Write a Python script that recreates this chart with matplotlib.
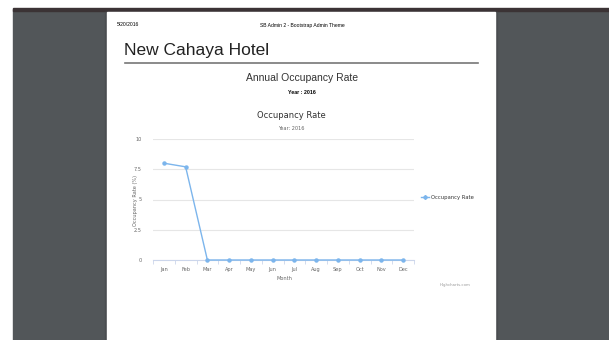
import numpy as np
import matplotlib.pyplot as plt
from matplotlib.patches import Rectangle
from matplotlib.lines import Line2D

# 数据
months = ['Jan', 'Feb', 'Mar', 'Apr', 'May', 'Jun', 'Jul', 'Aug', 'Sep', 'Oct', 'Nov', 'Dec']
occupancy = [8.0, 7.7, 0, 0, 0, 0, 0, 0, 0, 0, 0, 0]
y_ticks = [0, 2.5, 5, 7.5, 10]
y_tick_labels = ['0', '2.5', '5', '7.5', '10']

W, H = 609, 340
fig = plt.figure(figsize=(W / 100, H / 100), dpi=100)
fig.patch.set_facecolor('white')

# 背景（PDF 阅读器）
bg = fig.add_axes([0, 0, 1, 1])
bg.set_xlim(0, W)
bg.set_ylim(H, 0)
bg.axis('off')
bg.add_patch(Rectangle((13, 9), W - 13, H - 9, color='#525659', zorder=0))
bg.add_patch(Rectangle((13, 8), W - 13, 3, color='#3b3335', zorder=1))
bg.add_patch(Rectangle((105, 12), 392, H - 12, color='#4a4d50', zorder=1))
bg.add_patch(Rectangle((107, 12), 388, H - 12, color='white', zorder=2))

hdr = dict(family='Liberation Sans', zorder=3)
bg.text(117, 25, '5/20/2016', fontsize=3.6, ha='left', va='center', **hdr)
bg.text(302, 25, 'SB Admin 2 - Bootstrap Admin Theme', fontsize=3.6, ha='center', va='center', **hdr)
bg.text(124, 51, 'New Cahaya Hotel', fontsize=12.5, ha='left', va='center', color='#222222', **hdr)
bg.add_line(Line2D([125, 478], [63, 63], color='#777777', lw=1.2, zorder=3))
bg.text(302, 78, 'Annual Occupancy Rate', fontsize=7.5, ha='center', va='center', color='#333333', **hdr)
bg.text(302, 93, 'Year : 2016', fontsize=3.8, ha='center', va='center', fontweight='bold', **hdr)

hc = dict(family='DejaVu Sans', zorder=3)
bg.text(291, 116, 'Occupancy Rate', fontsize=6, ha='center', va='center', color='#333333', **hc)
bg.text(291, 129, 'Year: 2016', fontsize=3.6, ha='center', va='center', color='#666666', **hc)
bg.text(284, 279, 'Month', fontsize=3.6, ha='center', va='center', color='#666666', **hc)
bg.text(135, 200, 'Occupancy Rate (%)', fontsize=3.6, ha='center', va='center', rotation=90, color='#666666', **hc)
bg.text(470, 285, 'Highcharts.com', fontsize=2.8, ha='right', va='center', color='#999999', **hc)

# 图例
bg.add_line(Line2D([421, 429], [197, 197], color='#7cb5ec', lw=1, zorder=3))
bg.plot([425], [197], marker='D', markersize=2, color='#7cb5ec', zorder=4)
bg.text(431, 197, 'Occupancy Rate', fontsize=3.8, ha='left', va='center', color='#333333', **hc)
bg.set_xlim(0, W)
bg.set_ylim(H, 0)

# 图表区域
ax = fig.add_axes([153 / W, 1 - 260 / H, 261 / W, 121 / H])
ax.set_facecolor('none')
x = np.arange(len(months))
ax.plot(x, occupancy, color='#7cb5ec', lw=1, marker='o', markersize=2.2, zorder=3, clip_on=False)
ax.set_xlim(-0.5, len(months) - 0.5)
ax.set_ylim(0, 10)
ax.set_yticks(y_ticks)
ax.set_yticklabels(y_tick_labels, fontsize=3.6, color='#666666')
ax.set_xticks(x)
ax.set_xticklabels(months, fontsize=3.6, color='#666666')
ax.set_xticks(np.arange(len(months) + 1) - 0.5, minor=True)
ax.tick_params(axis='x', which='major', length=0, pad=5)
ax.tick_params(axis='x', which='minor', length=3, color='#ccd6eb', width=0.6)
ax.tick_params(axis='y', length=0, pad=8)
ax.grid(axis='y', color='#e6e6e6', lw=0.8)
for s in ['top', 'right', 'left']:
    ax.spines[s].set_visible(False)
ax.spines['bottom'].set_color('#ccd6eb')
ax.spines['bottom'].set_linewidth(0.8)

plt.savefig('out.png', dpi=100)
